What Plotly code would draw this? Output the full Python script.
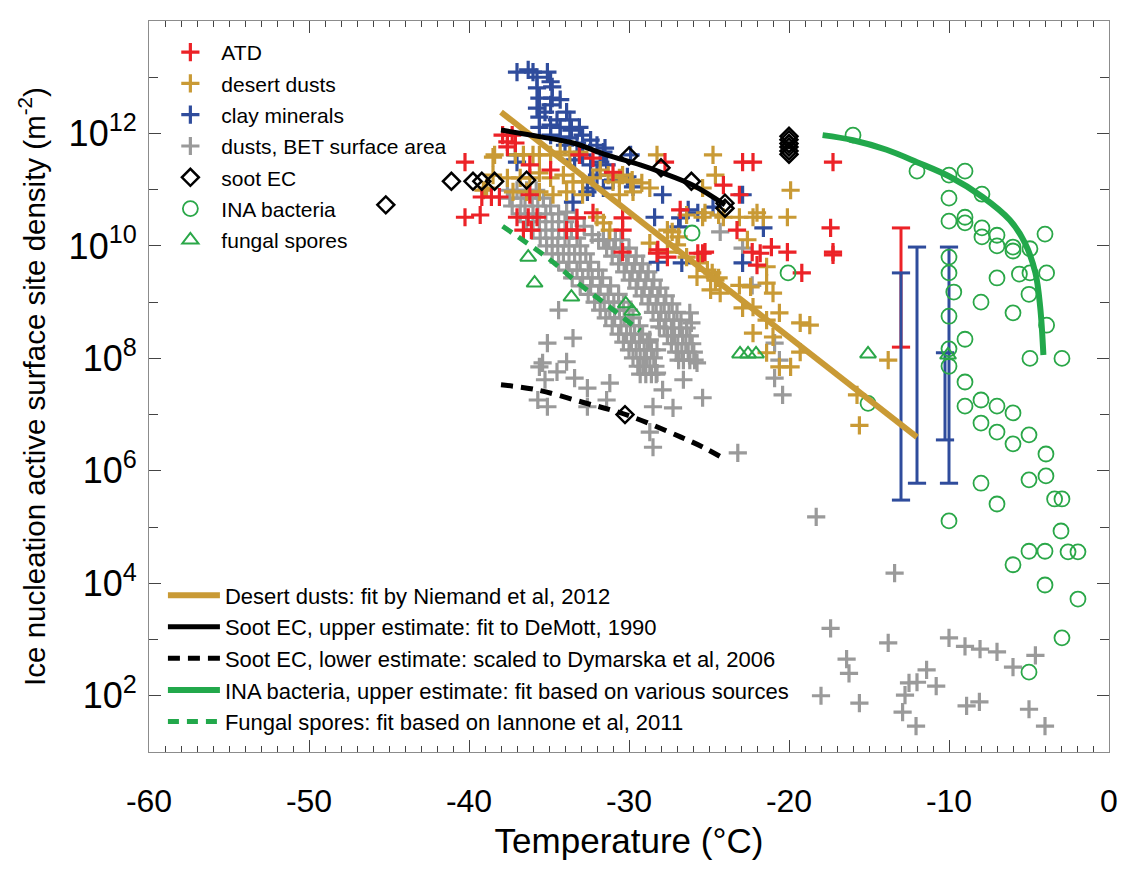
import plotly.graph_objects as go

# ---------------- measured data (temperature in degC, log10 of n_s in m^-2) ----------------
atd_T = [-40.25, -40.25, -39.3, -39.2, -38.6, -38.1, -37.9, -37.3, -37.6, -37.1, -37.6, -37.0,
         -36.3, -35.75, -36.6, -36.1, -33.9, -33.25, -33.25, -36.2, -34.9, -33.1, -32.25, -30.4,
         -30.4, -30.4, -32.25, -28.25, -27.6, -27.75, -22.9, -22.25, -24.1, -26.8, -25.7, -25.4,
         -23.25, -23.1, -22.3, -21.8, -21.1, -20.1, -22.0, -19.2, -17.25, -17.4, -17.25, -17.25,
         -25.25, -28.2, -31.0, -36.2]
atd_log = [11.49, 10.51, 10.55, 10.87, 10.87, 10.87, 11.97, 11.97, 11.85, 11.83, 11.76, 10.51,
           10.51, 10.51, 10.28, 10.28, 10.28, 10.28, 10.50, 10.91, 11.35, 11.62, 11.56, 10.50,
           10.28, 9.89, 10.59, 9.87, 9.80, 11.49, 11.49, 11.49, 11.08, 10.64, 9.87, 9.87,
           10.28, 10.91, 9.89, 9.87, 9.98, 9.89, 9.66, 9.52, 11.49, 10.32, 9.89, 9.84,
           9.89, 9.93, 11.31, 11.44]

desert_T = [-38.4, -37.1, -36.6, -36.0, -35.6, -34.9, -34.3, -33.7, -33.1,
            -38.5, -37.6, -36.8, -36.2, -35.6, -34.9, -34.1, -33.5, -32.9, -32.25, -31.0, -30.4, -29.9,
            -39.1, -37.25, -36.4, -35.6, -34.75, -33.9, -32.9, -30.6, -29.75,
            -32.0, -31.6, -31.2, -28.7, -28.7, -27.6, -27.3, -27.0, -28.25, -24.75, -24.6, -25.4,
            -19.9, -20.1, -26.4, -25.4, -24.1, -23.1, -22.0, -21.6, -22.6, -21.4, -23.1, -22.4,
            -21.0, -20.6, -19.3, -18.7, -22.25, -21.0, -27.6, -26.4, -25.6, -25.1, -24.6, -25.75,
            -24.3, -24.9, -31.8, -31.3, -30.6, -29.8, -29.2, -24.8, -24.4, -21.4, -22.9, -22.25,
            -21.4, -20.6, -19.9, -19.3, -13.8, -15.75, -15.6, -25.25, -24.4, -22.25, -38.9, -38.5,
            -26.9, -21.4]
desert_log = [11.62, 11.62, 11.62, 11.62, 11.62, 11.62, 11.67, 11.62, 11.67,
              11.26, 11.21, 11.21, 11.21, 11.30, 11.21, 11.26, 11.14, 11.14, 11.21, 11.14, 11.26, 11.14,
              10.99, 10.96, 10.96, 10.96, 10.91, 10.96, 10.91, 10.91, 10.96,
              10.51, 10.41, 10.28, 11.03, 10.05, 9.89, 10.25, 10.02, 11.62, 11.62, 11.26, 11.03,
              10.99, 10.51, 10.55, 10.51, 10.51, 10.51, 10.59, 10.51, 10.11, 9.63, 9.30, 9.27,
              9.16, 8.81, 8.63, 8.59, 8.45, 8.38, 10.28, 9.80, 9.70, 9.57, 9.39, 9.45,
              9.16, 9.22, 11.35, 11.26, 11.21, 11.17, 11.12, 9.52, 9.43, 9.34, 8.90, 8.91,
              8.10, 7.85, 7.85, 8.11, 7.97, 7.35, 6.81, 10.59, 10.55, 10.51, 11.03, 11.58,
              10.16, 8.68]

clay_T = [-37.0, -36.3, -36.0, -35.75, -35.1, -34.9, -35.75, -34.8, -35.6, -34.8, -35.75, -34.9,
          -33.9, -35.6, -34.5, -33.7, -34.9, -34.3, -33.6, -33.1, -32.9, -35.6, -34.9, -34.3,
          -33.7, -33.25, -32.0, -31.6, -32.9, -32.4, -31.8, -31.4, -32.0, -32.25, -31.6, -33.5,
          -37.0, -37.1, -31.5, -29.9, -31.0, -29.75, -27.9, -26.3, -28.4, -26.8, -26.9, -22.9,
          -21.6, -22.9, -28.2, -26.7, -25.7, -24.75, -32.6, -30.1, -34.0, -33.4, -32.4, -35.25,
          -34.3]
clay_log = [13.09, 13.13, 13.09, 13.0, 13.09, 12.92, 12.81, 12.83, 12.63, 12.63, 12.45, 12.51,
            12.38, 12.29, 12.24, 12.24, 12.15, 12.11, 12.06, 12.11, 11.97, 12.11, 11.97, 11.94,
            11.92, 11.83, 11.79, 11.67, 11.62, 11.44, 11.49, 11.44, 11.26, 11.03, 11.03, 10.78,
            11.49, 11.62, 11.74, 11.62, 11.17, 11.05, 10.91, 10.64, 10.51, 10.50, 10.34, 10.91,
            10.32, 9.70, 9.71, 9.70, 10.59, 10.69, 10.96, 11.23, 11.79, 11.53, 11.88, 12.38,
            12.60]

# dusts with BET-based surface area: two dense bands plus scattered points
bet_T = [
    # upper-left band
    -37.6, -37.0, -36.4, -35.8,
    -37.45, -36.75, -36.05, -35.35,
    -37.3, -36.5, -35.7, -34.9,
    -36.8, -36.0, -35.2, -34.4,
    -36.4, -35.6, -34.8, -34.0,
    -36.0, -35.2, -34.4, -33.6,
    -35.55, -34.8, -34.0, -33.25,
    -35.15, -34.45, -33.75, -33.05,
    -34.8, -34.1, -33.4, -32.7,
    -34.4, -33.75, -33.05, -32.4,
    -33.9, -33.25, -32.55, -31.9,
    -33.55, -32.9, -32.3, -31.65,
    -33.05, -32.4, -31.8, -31.15,
    -32.55, -31.9, -31.3, -30.65,
    -32.15, -31.55, -30.95, -30.35,
    -31.8, -31.2, -30.6, -30.0,
    -31.45, -30.9, -30.3, -29.75,
    -31.05, -30.5, -29.9, -29.35,
    -30.65, -30.15, -29.65, -29.15,
    -30.35, -29.85, -29.35, -28.85,
    -30.0, -29.55, -29.05, -28.6,
    -29.75, -29.3, -28.9, -28.45,
    -29.45, -29.1, -28.7, -28.35,
    -29.3, -28.95, -28.6, -28.3,
    -33.9, -33.3, -32.8, -32.3, -31.9,
    # right band
    -31.6, -31.25, -30.85, -30.5,
    -31.4, -30.95, -30.45, -30.0,
    -31.05, -30.55, -30.05, -29.55,
    -30.65, -30.15, -29.65, -29.15,
    -30.3, -29.8, -29.3, -28.8,
    -29.95, -29.45, -28.95, -28.45,
    -29.55, -29.05, -28.55, -28.05,
    -29.2, -28.7, -28.2, -27.7,
    -28.8, -28.3, -27.8, -27.3,
    -28.5, -28.0, -27.5, -27.0,
    -28.15, -27.7, -27.2, -26.75,
    -27.8, -27.35, -26.85, -26.4,
    -27.6, -27.15, -26.65, -26.2,
    -27.35, -26.95, -26.45, -26.05,
    -27.05, -26.7, -26.3, -25.95,
    -26.9, -26.6, -26.2, -25.9,
    # scattered
    -28.25, -27.9, -28.5, -27.25, -26.6, -25.4, -25.75, -26.2, -26.1, -28.1, -28.7, -28.25,
    -31.2, -31.4, -32.6, -33.4, -33.9, -34.5, -35.1, -33.5, -34.4, -35.6, -35.25, -35.7,
    -35.1, -32.6, -28.5, -28.7, -23.2, -20.9, -20.6, -20.9, -20.4, -22.3, -35.4, -24.3,
    -22.9,
    -18.3, -13.4, -17.4, -16.4, -16.25, -18.0, -15.6, -13.8, -12.75, -12.5, -12.0, -11.4,
    -10.8, -12.9, -12.06, -10.0, -9.0, -8.06, -7.0, -6.0, -4.6, -5.0, -4.0, -8.9, -8.1]
bet_log = [
    10.99, 10.99, 10.99, 10.99,
    10.85, 10.85, 10.85, 10.85,
    10.71, 10.71, 10.71, 10.71,
    10.57, 10.57, 10.57, 10.57,
    10.43, 10.43, 10.43, 10.43,
    10.28, 10.28, 10.28, 10.28,
    10.14, 10.14, 10.14, 10.14,
    10.00, 10.00, 10.00, 10.00,
    9.86, 9.86, 9.86, 9.86,
    9.71, 9.71, 9.71, 9.71,
    9.57, 9.57, 9.57, 9.57,
    9.43, 9.43, 9.43, 9.43,
    9.29, 9.29, 9.29, 9.29,
    9.14, 9.14, 9.14, 9.14,
    9.00, 9.00, 9.00, 9.00,
    8.86, 8.86, 8.86, 8.86,
    8.72, 8.72, 8.72, 8.72,
    8.58, 8.58, 8.58, 8.58,
    8.43, 8.43, 8.43, 8.43,
    8.29, 8.29, 8.29, 8.29,
    8.15, 8.15, 8.15, 8.15,
    8.01, 8.01, 8.01, 8.01,
    7.86, 7.86, 7.86, 7.86,
    7.72, 7.72, 7.72, 7.72,
    10.6, 10.5, 10.35, 10.2, 10.1,
    10.11, 10.11, 10.11, 10.11,
    9.96, 9.96, 9.96, 9.96,
    9.82, 9.82, 9.82, 9.82,
    9.68, 9.68, 9.68, 9.68,
    9.54, 9.54, 9.54, 9.54,
    9.39, 9.39, 9.39, 9.39,
    9.25, 9.25, 9.25, 9.25,
    9.11, 9.11, 9.11, 9.11,
    8.97, 8.97, 8.97, 8.97,
    8.82, 8.82, 8.82, 8.82,
    8.68, 8.68, 8.68, 8.68,
    8.54, 8.54, 8.54, 8.54,
    8.40, 8.40, 8.40, 8.40,
    8.26, 8.26, 8.26, 8.26,
    8.11, 8.11, 8.11, 8.11,
    7.97, 7.97, 7.97, 7.97,
    7.74, 7.44, 7.14, 7.12, 7.62, 7.30, 7.92, 8.81, 8.63, 8.56, 8.33, 8.15,
    7.56, 7.26, 7.47, 7.65, 7.94, 7.76, 8.27, 8.36, 8.86, 7.85, 7.62, 7.26,
    7.14, 7.14, 6.42, 6.69, 6.32, 8.27, 7.97, 7.65, 7.35, 9.30, 7.92, 10.25,
    9.96,
    5.18, 4.18, 3.20, 2.65, 2.40, 2.00, 1.87, 2.94, 2.01, 2.23, 2.24, 2.46,
    2.17, 1.71, 1.46, 3.03, 2.88, 2.83, 2.78, 2.51, 2.72, 1.76, 1.46, 1.82, 1.89]

soot_T = [-45.2, -41.1, -39.75, -39.2, -38.4, -36.4, -30.0, -28.0, -26.1, -24.0, -24.0,
          -20.0, -20.0, -20.0, -20.0, -20.0, -20.0, -30.25]
soot_log = [10.73, 11.15, 11.15, 11.15, 11.15, 11.17, 11.60, 11.39, 11.15, 10.76, 10.67,
            11.95, 11.89, 11.82, 11.76, 11.69, 11.63, 7.0]

bact_T = [-16.0, -12.0, -10.0, -9.0, -7.94, -10.0, -10.0, -9.0, -9.0, -7.94, -7.94, -7.0,
          -7.0, -6.0, -6.0, -4.94, -4.0, -3.9, -4.94, -5.6, -7.0, -5.0, -6.0, -3.9,
          -8.0, -10.0, -10.0, -9.7, -10.0, -9.0, -10.0, -10.0, -4.94, -2.94, -9.0, -8.0,
          -7.0, -6.0, -9.0, -8.0, -7.0, -6.0, -5.0, -3.94, -3.94, -5.0, -8.0, -7.0,
          -3.4, -2.94, -10.0, -3.0, -5.0, -4.0, -2.56, -1.94, -6.0, -4.0, -1.94, -2.94,
          -5.0, -20.06, -15.06, -26.06]
bact_log = [11.97, 11.33, 11.26, 11.33, 10.92, 10.85, 10.44, 10.51, 10.41, 10.32, 10.16, 10.19,
            10.0, 9.98, 9.91, 9.95, 10.21, 9.52, 9.52, 9.50, 9.43, 9.14, 8.81, 8.59,
            9.0, 9.80, 9.52, 9.18, 8.75, 8.34, 8.17, 7.86, 8.0, 8.0, 7.58, 7.26,
            7.15, 7.03, 7.15, 6.85, 6.69, 6.48, 6.64, 6.30, 5.91, 5.84, 5.78, 5.41,
            5.50, 5.50, 5.11, 4.93, 4.57, 4.57, 4.56, 4.56, 4.33, 3.97, 3.72, 3.03,
            2.42, 9.52, 7.20, 10.23]

fungal_T = [-36.3, -35.9, -33.6, -30.2, -29.8, -23.06, -22.56, -22.06, -15.06, -10.06]
fungal_log = [9.80, 9.34, 9.09, 8.97, 8.84, 8.08, 8.08, 8.08, 8.08, 8.06]

# vertical range bars (ATD and clay minerals)
atd_bar_T = [-13.0]
atd_bar_lo = [8.20]
atd_bar_hi = [10.32]
clay_bar_T = [-13.0, -12.0, -10.0, -10.25]
clay_bar_lo = [5.48, 5.78, 5.78, 6.55]
clay_bar_hi = [9.52, 9.98, 9.98, 8.10]

# parameterisations
niemand_T = [-38.0, -12.0]
niemand_log = [12.38, 6.60]
soot_up_T = [-38.0, -35.5, -33.5, -31.4, -29.3, -28.0, -26.0, -24.0]
soot_up_log = [12.06, 11.94, 11.83, 11.62, 11.44, 11.31, 11.08, 10.73]
soot_lo_T = [-38.0, -35.75, -32.9, -30.1, -26.75, -25.3, -23.9]
soot_lo_log = [7.53, 7.44, 7.22, 6.99, 6.60, 6.41, 6.19]
ina_T = [-17.9, -16.0, -13.9, -12.0, -9.94, -7.9, -6.2, -5.25, -4.6, -4.3, -4.1]
ina_log = [11.97, 11.88, 11.71, 11.49, 11.23, 10.87, 10.46, 10.05, 9.52, 8.91, 8.06]
fungal_fit_T = [-37.9, -35.1, -33.1, -31.2, -29.3]
fungal_fit_log = [10.35, 9.79, 9.32, 8.91, 8.49]

x_ticks = [-60, -50, -40, -30, -20, -10, 0]
y_tick_exp = [2, 4, 6, 8, 10, 12, 14]

RED = "#EC2227"
GOLD = "#C99A35"
BLUE = "#2F4C9C"
GRAY = "#9A9A9A"
GREEN = "#2AA748"
GREEN_LINE = "#22A84B"

BASE = "Liberation Sans, Arial, Helvetica, sans-serif"


def ns(logs):
    return [10 ** v for v in logs]


def cross(color):
    return dict(symbol="cross-thin", size=13, color=color, line=dict(width=3.2, color=color))


fig = go.Figure()

# scatter data
fig.add_trace(go.Scatter(x=bet_T, y=ns(bet_log), mode="markers", name="dusts, BET surface area",
                         marker=cross(GRAY), legend="legend", legendrank=4, legendgroup="g4"))
fig.add_trace(go.Scatter(x=clay_T, y=ns(clay_log), mode="markers", name="clay minerals",
                         marker=cross(BLUE), legend="legend", legendrank=3, legendgroup="g3"))
fig.add_trace(go.Scatter(x=desert_T, y=ns(desert_log), mode="markers", name="desert dusts",
                         marker=cross(GOLD), legend="legend", legendrank=2, legendgroup="g2"))
fig.add_trace(go.Scatter(x=atd_T, y=ns(atd_log), mode="markers", name="ATD",
                         marker=cross(RED), legend="legend", legendrank=1, legendgroup="g1"))

# range bars
for t, lo, hi in zip(atd_bar_T, atd_bar_lo, atd_bar_hi):
    fig.add_trace(go.Scatter(x=[t, t], y=ns([lo, hi]), mode="lines+markers", showlegend=False,
                             line=dict(color=RED, width=3),
                             marker=dict(symbol="line-ew", size=13, line=dict(width=3, color=RED))))
for t, lo, hi in zip(clay_bar_T, clay_bar_lo, clay_bar_hi):
    fig.add_trace(go.Scatter(x=[t, t], y=ns([lo, hi]), mode="lines+markers", showlegend=False,
                             line=dict(color=BLUE, width=3),
                             marker=dict(symbol="line-ew", size=13, line=dict(width=3, color=BLUE))))

fig.add_trace(go.Scatter(x=soot_T, y=ns(soot_log), mode="markers", name="soot EC",
                         marker=dict(symbol="diamond-open", size=13, color="black",
                                     line=dict(width=2.5, color="black")),
                         legend="legend", legendrank=5, legendgroup="g5"))
fig.add_trace(go.Scatter(x=bact_T, y=ns(bact_log), mode="markers", name="INA bacteria",
                         marker=dict(symbol="circle-open", size=15, color=GREEN,
                                     line=dict(width=1.8, color=GREEN)),
                         legend="legend", legendrank=6, legendgroup="g6"))
fig.add_trace(go.Scatter(x=fungal_T, y=ns(fungal_log), mode="markers", name="fungal spores",
                         marker=dict(symbol="triangle-up-open", size=14, color=GREEN,
                                     line=dict(width=2, color=GREEN)),
                         legend="legend", legendrank=7, legendgroup="g7"))

# fitted curves
fig.add_trace(go.Scatter(x=niemand_T, y=ns(niemand_log), mode="lines",
                         name="Desert dusts: fit by Niemand et al, 2012",
                         line=dict(color=GOLD, width=6), legend="legend2", legendrank=1, legendgroup="h1"))
fig.add_trace(go.Scatter(x=soot_up_T, y=ns(soot_up_log), mode="lines", line_shape="spline",
                         name="Soot EC, upper estimate: fit to DeMott, 1990",
                         line=dict(color="black", width=5), legend="legend2", legendrank=2, legendgroup="h2"))
fig.add_trace(go.Scatter(x=soot_lo_T, y=ns(soot_lo_log), mode="lines", line_shape="spline",
                         name="Soot EC, lower estimate: scaled to Dymarska et al, 2006",
                         line=dict(color="black", width=5, dash="12px,8px"),
                         legend="legend2", legendrank=3, legendgroup="h3"))
fig.add_trace(go.Scatter(x=ina_T, y=ns(ina_log), mode="lines", line_shape="spline",
                         name="INA bacteria, upper estimate: fit based on various sources",
                         line=dict(color=GREEN_LINE, width=6), legend="legend2", legendrank=4, legendgroup="h4"))
fig.add_trace(go.Scatter(x=fungal_fit_T, y=ns(fungal_fit_log), mode="lines", line_shape="spline",
                         name="Fungal spores: fit based on Iannone et al, 2011",
                         line=dict(color=GREEN_LINE, width=5, dash="11px,8px"),
                         legend="legend2", legendrank=5, legendgroup="h5"))

axis_common = dict(showline=True, linecolor="#8c8c8c", linewidth=1.2, mirror="ticks",
                   ticks="inside", tickcolor="#444", showgrid=False, zeroline=False,
                   automargin=False)

fig.update_layout(
    width=1123, height=869,
    margin=dict(l=149, r=14, t=21, b=117, autoexpand=False),
    paper_bgcolor="white", plot_bgcolor="white",
    font=dict(family=BASE, color="black"),
    xaxis=dict(range=[-60, 0], tickvals=x_ticks, ticktext=[str(v) for v in x_ticks],
               ticklen=12, tickwidth=1.2,
               minor=dict(dtick=1, ticklen=6, tickcolor="#444", ticks="inside"),
               tickfont=dict(size=32), ticklabelstandoff=20,
               title=dict(text="Temperature (°C)", font=dict(size=35), standoff=10),
               **axis_common),
    yaxis=dict(type="log", range=[1, 14], tickvals=[10 ** e for e in y_tick_exp],
               ticktext=[f"10<sup>{e}</sup>" for e in y_tick_exp],
               ticklen=12, tickwidth=1.2,
               minor=dict(tickvals=[10 ** e for e in range(1, 15, 2)], ticklen=9,
                          tickcolor="#444", ticks="inside"),
               tickfont=dict(size=36), ticklabelstandoff=4,
               title=dict(text="Ice nucleation active surface site density (m<sup>-2</sup>)",
                          font=dict(size=29.5), standoff=14),
               **axis_common),
    legend=dict(x=0.0108, y=0.985, xanchor="left", yanchor="top", bgcolor="rgba(0,0,0,0)",
                font=dict(size=21), tracegroupgap=1, itemsizing="trace", itemwidth=52),
    legend2=dict(x=0.0145, y=0.243, xanchor="left", yanchor="top", bgcolor="rgba(0,0,0,0)",
                 font=dict(size=22), tracegroupgap=0, itemwidth=52),
)

fig.write_html("out.html")
